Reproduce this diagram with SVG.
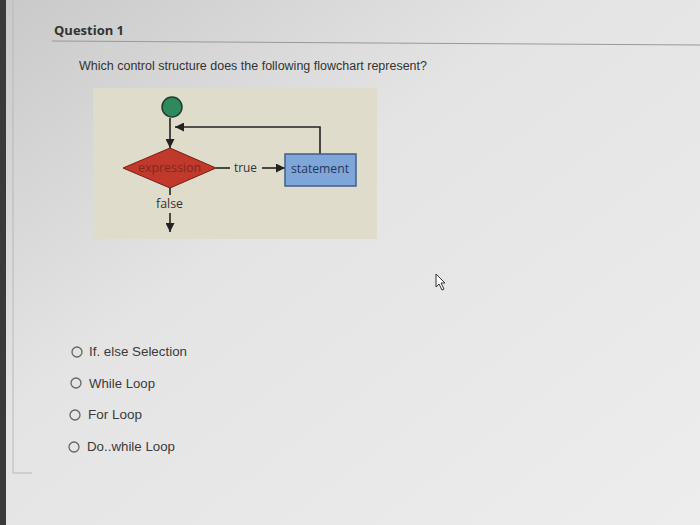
<svg xmlns="http://www.w3.org/2000/svg" width="700" height="525" viewBox="0 0 700 525">
<defs>
<linearGradient id="bg" x1="0" y1="0" x2="1" y2="1">
<stop offset="0" stop-color="#c9c9c9"/>
<stop offset="0.4" stop-color="#e4e4e4"/>
<stop offset="1" stop-color="#ededed"/>
</linearGradient>
<marker id="ah" viewBox="0 0 10 10" refX="10" refY="5" markerWidth="9" markerHeight="9" markerUnits="userSpaceOnUse" orient="auto">
<path d="M0,0 L10,5 L0,10 z" fill="#222"/>
</marker>
<style>
.opt{font-family:"Liberation Sans",Arial,sans-serif;font-size:13.5px;fill:#3a3a3a}
.radio{fill:none;stroke:#666;stroke-width:1.3}
.fc{font-family:"Open Sans","Liberation Sans",sans-serif;font-size:12.5px}
.ln{stroke:#222;stroke-width:1.6;fill:none}
</style>
</defs>
<rect width="700" height="525" fill="url(#bg)"/>
<rect x="0" y="0" width="6" height="525" fill="#3a3a3a"/>
<polyline points="13,0 13,473 32,473" fill="none" stroke="#b8b8b8" stroke-width="1"/>
<text x="54" y="35" font-family="'Open Sans','Liberation Sans',sans-serif" font-size="13" font-weight="bold" fill="#333">Question 1</text>
<line x1="52" y1="41" x2="700" y2="45" stroke="#999" stroke-width="1"/>
<text x="79" y="70" font-family="'Liberation Sans',Arial,sans-serif" font-size="12.5" fill="#333" textLength="348" lengthAdjust="spacingAndGlyphs">Which control structure does the following flowchart represent?</text>
<rect x="93" y="88" width="284" height="151" fill="#e0dccb"/>
<g id="connectors">
<line class="ln" x1="170" y1="118" x2="170" y2="148" marker-end="url(#ah)"/>
<polyline class="ln" points="320,154 320,127 175,127" marker-end="url(#ah)"/>
<line class="ln" x1="216" y1="168" x2="230" y2="168"/>
<line class="ln" x1="262" y1="168" x2="285" y2="168" marker-end="url(#ah)"/>
<line class="ln" x1="170" y1="188" x2="170" y2="195"/>
<line class="ln" x1="170" y1="213" x2="170" y2="232" marker-end="url(#ah)"/>
<text class="fc" x="234" y="172" fill="#333" textLength="23" lengthAdjust="spacingAndGlyphs">true</text>
<text class="fc" x="156" y="208" fill="#333" textLength="27" lengthAdjust="spacingAndGlyphs">false</text>
</g>
<g id="start">
<circle cx="172" cy="107" r="10" fill="#2e8a5e" stroke="#1f3d2f" stroke-width="1.5"/>
</g>
<g id="expression">
<polygon points="123,168 170,148 216,168 170,188" fill="#c0392b" stroke="#7a1d14" stroke-width="1"/>
<text class="fc" x="138" y="172" fill="#7a2a22" textLength="63" lengthAdjust="spacingAndGlyphs">expression</text>
</g>
<g id="statement">
<rect x="285" y="154" width="71" height="32" fill="#7fa6d8" stroke="#3e5f8c" stroke-width="1.5"/>
<text class="fc" x="291" y="173" fill="#1f3860" textLength="58" lengthAdjust="spacingAndGlyphs">statement</text>
</g>
<g id="options">
<circle class="radio" cx="77" cy="352" r="5"/>
<text class="opt" x="89" y="356" textLength="98" lengthAdjust="spacingAndGlyphs">If. else Selection</text>
<circle class="radio" cx="76" cy="383" r="5"/>
<text class="opt" x="89" y="388" textLength="66" lengthAdjust="spacingAndGlyphs">While Loop</text>
<circle class="radio" cx="75" cy="415" r="5"/>
<text class="opt" x="88" y="419" textLength="54" lengthAdjust="spacingAndGlyphs">For Loop</text>
<circle class="radio" cx="74" cy="447" r="5"/>
<text class="opt" x="87" y="451" textLength="88" lengthAdjust="spacingAndGlyphs">Do..while Loop</text>
</g>
<path d="M436,274 L436,287 L439,284 L442,290 L444,289 L441,283 L445,283 Z" fill="#fff" stroke="#333" stroke-width="1"/>
</svg>
